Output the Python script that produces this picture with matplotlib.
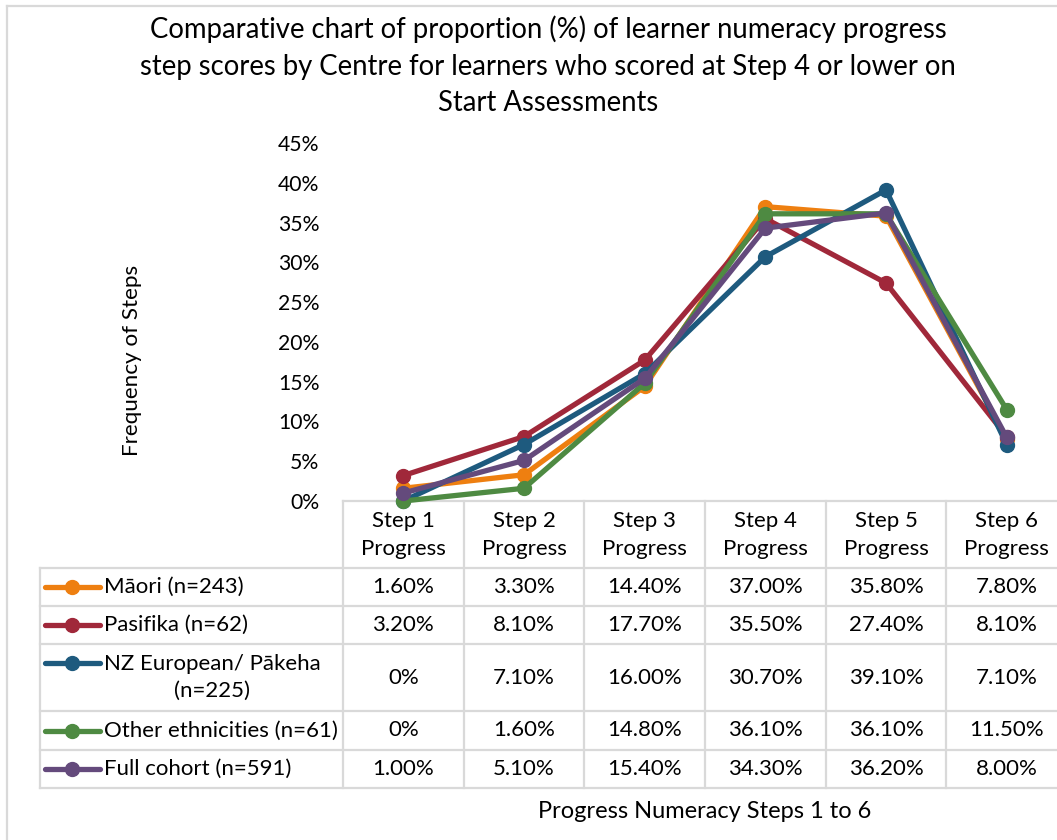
import matplotlib
matplotlib.use("Agg")
import matplotlib.pyplot as plt
from matplotlib.ticker import FuncFormatter

# categories and series (percent values)
steps = ["Step 1\nProgress", "Step 2\nProgress", "Step 3\nProgress",
         "Step 4\nProgress", "Step 5\nProgress", "Step 6\nProgress"]
series_names = ["Māori (n=243)", "Pasifika (n=62)", "NZ European/ Pākeha\n(n=225)",
                "Other ethnicities (n=61)", "Full cohort (n=591)"]
maori = [1.6, 3.3, 14.4, 37.0, 35.8, 7.8]
pasifika = [3.2, 8.1, 17.7, 35.5, 27.4, 8.1]
nz_european = [0.0, 7.1, 16.0, 30.7, 39.1, 7.1]
other = [0.0, 1.6, 14.8, 36.1, 36.1, 11.5]
full_cohort = [1.0, 5.1, 15.4, 34.3, 36.2, 8.0]
yticks = [0, 5, 10, 15, 20, 25, 30, 35, 40, 45]

values = [maori, pasifika, nz_european, other, full_cohort]
colors = ["#EE7F10", "#A0283A", "#1E5A7E", "#4E8A42", "#644A7C"]

title = ("Comparative chart of proportion (%) of learner numeracy progress\n"
         "step scores by Centre for learners who scored at Step 4 or lower on\n"
         "Start Assessments")

plt.rcParams['font.family'] = ['Lato', 'DejaVu Sans']

W, H = 1057, 840
fig = plt.figure(figsize=(W / 100, H / 100), dpi=100)

# overlay in pixel coordinates for the border and the data table
ov = fig.add_axes([0, 0, 1, 1])
ov.set_xlim(0, W)
ov.set_ylim(H, 0)
ov.axis('off')

grid = "#D9D9D9"
lw = 1.6
# chart border
ov.plot([7, 7], [6, H], color=grid, lw=lw)
ov.plot([7, W], [6, 6], color=grid, lw=lw)

# plot area
x0, x1 = 343, 1067
y_top, y_bot = 143, 501
colw = (x1 - x0) / len(steps)
ax = fig.add_axes([x0 / W, (H - y_bot) / H, (x1 - x0) / W, (y_bot - y_top) / H])
ax.set_facecolor("none")
ax.set_xlim(-0.5, len(steps) - 0.5)
ax.set_ylim(0, 45)
for s in ax.spines.values():
    s.set_visible(False)
ax.set_xticks([])
ax.set_yticks(yticks)
ax.yaxis.set_major_formatter(FuncFormatter(lambda v, p: f"{v:.0f}%"))
ax.tick_params(axis='y', length=0, pad=17, labelsize=15.2)

xs = list(range(len(steps)))
for vals, c in zip(values, colors):
    ax.plot(xs, vals, color=c, lw=3.8, marker='o', markersize=10,
            clip_on=False, solid_joinstyle='round')

# table lines
col_x = [x0 + i * colw for i in range(len(steps) + 1)]
row_y = [568, 606, 644, 711, 750, 788]
ov.plot([x0, W], [y_bot, y_bot], color=grid, lw=lw)
for x in col_x[:-1]:
    ov.plot([x, x], [y_bot, row_y[-1]], color=grid, lw=lw)
for y in row_y:
    ov.plot([40, W], [y, y], color=grid, lw=lw)
ov.plot([40, 40], [row_y[0], row_y[-1]], color=grid, lw=lw)

fs = 16
# header
for i, s in enumerate(steps):
    ov.text(col_x[i] + colw / 2, 535, s, ha='center', va='center',
            fontsize=fs, linespacing=1.45)

# rows
for r, (name, vals, c) in enumerate(zip(series_names, values, colors)):
    yc = (row_y[r] + row_y[r + 1]) / 2
    ky = yc - 14.5 if "\n" in name else yc
    ov.plot([45, 100], [ky, ky], color=c, lw=3.8, solid_capstyle='round')
    ov.plot([72], [ky], color=c, marker='o', markersize=10)
    ov.text(104, yc, name, ha='left', va='center', fontsize=fs,
            multialignment='center', linespacing=1.45)
    for i, v in enumerate(vals):
        txt = "0%" if v == 0 else f"{v:.2f}%"
        ov.text(col_x[i] + colw / 2, yc, txt, ha='center', va='center', fontsize=fs)

# titles
ov.text(548, 66, title, ha='center', va='center', fontsize=19.8, linespacing=1.5)
ov.text(705, 811, "Progress Numeracy Steps 1 to 6", ha='center', va='center', fontsize=17)
ov.text(132, 360, "Frequency of Steps", ha='center', va='center', fontsize=16.2, rotation=90)

fig.savefig("out.png", dpi=100)
